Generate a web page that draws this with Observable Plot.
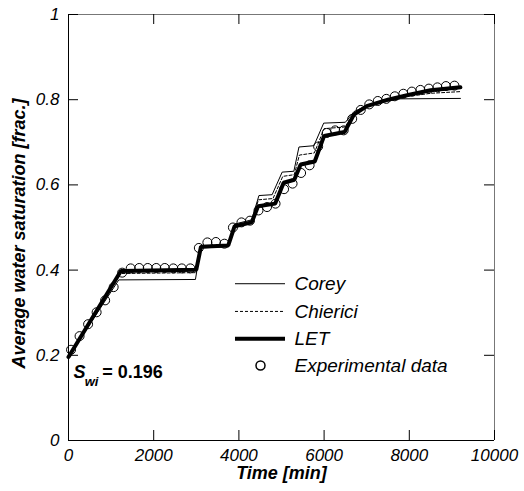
<!DOCTYPE html>
<html>
<head>
<meta charset="utf-8">
<script src="https://cdn.jsdelivr.net/npm/d3@7"></script>
<script src="https://cdn.jsdelivr.net/npm/@observablehq/plot@0.6"></script>
<style>
  html, body { margin: 0; padding: 0; background: #fff; }
  svg { font-family: "Liberation Sans", Arial, sans-serif; }
</style>
</head>
<body>
<div id="chart"></div>
<script>
// ---- Data ----
const xTicks = [0, 2000, 4000, 6000, 8000, 10000];
const xTickLabels = ["0", "2000", "4000", "6000", "8000", "10000"];
const yTicks = [0, 0.2, 0.4, 0.6, 0.8, 1];
const yTickLabels = ["0", "0.2", "0.4", "0.6", "0.8", "1"];

const expT = [60, 260, 460, 660, 860, 1060, 1260, 1460, 1660, 1860, 2060, 2260, 2460, 2660, 2860,
  3060, 3260, 3460, 3660, 3860, 4060, 4260, 4460, 4660, 4860, 5060, 5260, 5460, 5660, 5860,
  6060, 6260, 6460, 6660, 6860, 7060, 7260, 7460, 7660, 7860, 8060, 8260, 8460, 8660, 8860, 9060];
const expS = [0.213, 0.245, 0.273, 0.301, 0.329, 0.360, 0.394, 0.404, 0.405, 0.405, 0.405, 0.405, 0.404, 0.404, 0.404,
  0.452, 0.465, 0.466, 0.462, 0.500, 0.512, 0.516, 0.540, 0.548, 0.556, 0.590, 0.603, 0.628, 0.646, 0.690,
  0.722, 0.728, 0.728, 0.755, 0.776, 0.789, 0.797, 0.802, 0.808, 0.814, 0.819, 0.823, 0.826, 0.829, 0.832, 0.833];

const coreyT = [0, 1180, 2980, 3100, 3740, 3900, 4300, 4470, 4780, 5016, 5290, 5410, 5760, 5990, 6500, 6700, 7000, 7400, 7800, 9200];
const coreyS = [0.196, 0.377, 0.378, 0.452, 0.455, 0.508, 0.518, 0.575, 0.577, 0.630, 0.632, 0.689, 0.692, 0.745, 0.747, 0.772, 0.786, 0.796, 0.802, 0.803];

const chiericiT = [0, 1220, 3000, 3100, 3750, 3900, 4300, 4460, 4800, 5030, 5300, 5420, 5770, 6000, 6490, 6700, 7000, 7500, 8000, 8500, 9200];
const chiericiS = [0.196, 0.392, 0.394, 0.455, 0.457, 0.506, 0.515, 0.565, 0.568, 0.620, 0.624, 0.670, 0.675, 0.732, 0.736, 0.768, 0.785, 0.798, 0.808, 0.815, 0.819];

const letT = [0, 1230, 3000, 3110, 3750, 3900, 4300, 4450, 4850, 5050, 5300, 5450, 5780, 6000, 6480, 6700, 7000, 7500, 8000, 8500, 9200];
const letS = [0.196, 0.398, 0.401, 0.455, 0.458, 0.503, 0.512, 0.550, 0.556, 0.605, 0.612, 0.648, 0.655, 0.715, 0.724, 0.765, 0.785, 0.800, 0.812, 0.822, 0.829];

const legendNames = ["Corey", "Chierici", "LET", "Experimental data"];
const legendY = [0.368, 0.303, 0.239, 0.176];
const legendLineX = [3920, 5094];
const legendTextX = 5305;
const legendDotX = 4507;

// ---- Build ----
const toRows = (T, S) => T.map((t, i) => ({t, s: S[i]}));
const corey = toRows(coreyT, coreyS);
const chierici = toRows(chiericiT, chiericiS);
const letRows = toRows(letT, letS);
const exp = toRows(expT, expS);

const W = 524, H = 491, mL = 68, mR = 30, mT = 14, mB = 51;
const fw = W - mL - mR, fh = H - mT - mB;
const tickLen = 10;

const legendLines = legendNames.slice(0, 3).map((n, i) => ({name: n, x1: legendLineX[0], x2: legendLineX[1], y: legendY[i]}));

const chart = Plot.plot({
  width: W, height: H,
  marginLeft: mL, marginRight: mR, marginTop: mT, marginBottom: mB,
  x: {domain: [0, 10000]},
  y: {domain: [0, 1]},
  style: {fontFamily: "Liberation Sans, Arial, sans-serif", background: "#fff"},
  marks: [
    // frame
    Plot.ruleX([10000], {stroke: "#777", strokeWidth: 1}),
    Plot.ruleY([1], {stroke: "#777", strokeWidth: 1}),
    Plot.ruleX([0], {stroke: "#000", strokeWidth: 1}),
    Plot.ruleY([0], {stroke: "#000", strokeWidth: 1}),
    // inward ticks
    Plot.tickY(yTicks, {insetRight: fw - tickLen, stroke: "#000"}),
    Plot.tickY(yTicks, {insetLeft: fw - tickLen, stroke: "#000"}),
    Plot.tickX(xTicks, {insetTop: fh - tickLen, stroke: "#000"}),
    Plot.tickX(xTicks, {insetBottom: fh - tickLen, stroke: "#000"}),
    // tick labels
    Plot.axisY({ticks: yTicks, tickSize: 0, tickPadding: 9, tickFormat: (d) => yTickLabels[yTicks.indexOf(d)],
      fontSize: 17, fontStyle: "italic", label: null}),
    Plot.axisX({ticks: xTicks, tickSize: 0, tickPadding: 8, tickFormat: (d) => xTickLabels[xTicks.indexOf(d)],
      fontSize: 17, fontStyle: "italic", label: null}),
    // axis titles
    Plot.text(["Time [min]"], {frameAnchor: "bottom", textAnchor: "middle", dy: 38, fontSize: 18, fontWeight: "bold", fontStyle: "italic", fill: "#000"}),
    Plot.text(["Average water saturation [frac.]"], {frameAnchor: "left", y: () => 0.486, dx: -49, rotate: -90, textAnchor: "middle",
      fontSize: 18, fontWeight: "bold", fontStyle: "italic", fill: "#000"}),
    // series
    Plot.line(corey, {x: "t", y: "s", stroke: "#000", strokeWidth: 1}),
    Plot.line(chierici, {x: "t", y: "s", stroke: "#000", strokeWidth: 1, strokeDasharray: "3,2"}),
    Plot.line(letRows, {x: "t", y: "s", stroke: "#000", strokeWidth: 4, strokeLinejoin: "miter"}),
    Plot.dot(exp, {x: "t", y: "s", r: 4.5, stroke: "#000", strokeWidth: 1, fill: "none"}),
    // legend
    Plot.ruleY([legendLines[0]], {x1: "x1", x2: "x2", y: "y", stroke: "#000", strokeWidth: 1}),
    Plot.ruleY([legendLines[1]], {x1: "x1", x2: "x2", y: "y", stroke: "#000", strokeWidth: 1, strokeDasharray: "3,2"}),
    Plot.ruleY([legendLines[2]], {x1: "x1", x2: "x2", y: "y", stroke: "#000", strokeWidth: 4}),
    Plot.dot([{x: legendDotX, y: legendY[3]}], {x: "x", y: "y", r: 4.5, stroke: "#000", fill: "none"}),
    Plot.text(legendNames.map((n, i) => ({n, y: legendY[i]})), {x: () => legendTextX, y: "y", text: "n", textAnchor: "start",
      fontSize: 19, fontStyle: "italic", fill: "#000"}),
    // S_wi annotation
    Plot.text([{x: 117, y: 0.161}], {x: "x", y: "y", text: () => "S", textAnchor: "start", fontSize: 18, fontWeight: "bold", fontStyle: "italic", fill: "#000"}),
    Plot.text([{x: 380, y: 0.138}], {x: "x", y: "y", text: () => "wi", textAnchor: "start", fontSize: 13, fontWeight: "bold", fontStyle: "italic", fill: "#000"}),
    Plot.text([{x: 790, y: 0.161}], {x: "x", y: "y", text: () => "= 0.196", textAnchor: "start", fontSize: 18, fontWeight: "bold", fill: "#000"})
  ]
});
document.getElementById("chart").appendChild(chart);
</script>
</body>
</html>
